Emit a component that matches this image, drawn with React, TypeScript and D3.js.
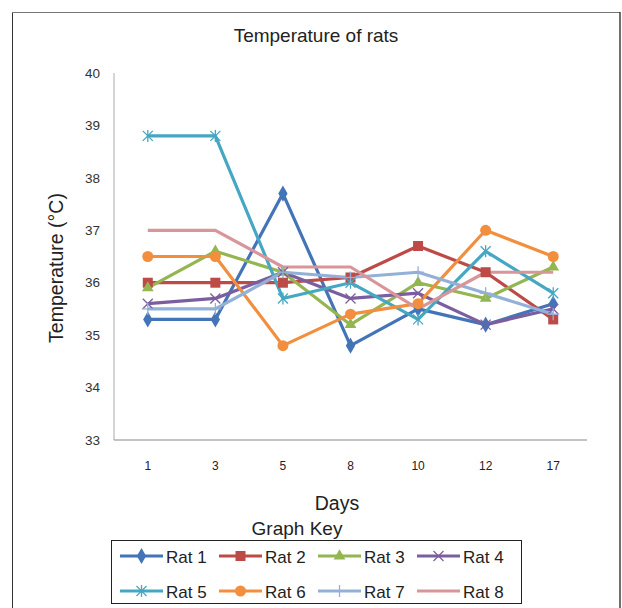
import * as d3 from "d3";

// Dados
const DIAS = ["1", "3", "5", "8", "10", "12", "17"];
const RATOS = ["Rat 1", "Rat 2", "Rat 3", "Rat 4", "Rat 5", "Rat 6", "Rat 7", "Rat 8"];
const RAT1 = [35.3, 35.3, 37.7, 34.8, 35.5, 35.2, 35.6];
const RAT2 = [36.0, 36.0, 36.0, 36.1, 36.7, 36.2, 35.3];
const RAT3 = [35.9, 36.6, 36.2, 35.2, 36.0, 35.7, 36.3];
const RAT4 = [35.6, 35.7, 36.2, 35.7, 35.8, 35.2, 35.5];
const RAT5 = [38.8, 38.8, 35.7, 36.0, 35.3, 36.6, 35.8];
const RAT6 = [36.5, 36.5, 34.8, 35.4, 35.6, 37.0, 36.5];
const RAT7 = [35.5, 35.5, 36.2, 36.1, 36.2, 35.8, 35.4];
const RAT8 = [37.0, 37.0, 36.3, 36.3, 35.5, 36.2, 36.2];
const Y_TICKS = [33, 34, 35, 36, 37, 38, 39, 40];

const SERIES = [RAT1, RAT2, RAT3, RAT4, RAT5, RAT6, RAT7, RAT8];

// Cores estilo Excel 2007
const CORES = ["#4374b7", "#bd4a47", "#94b650", "#7b5e9f", "#45a7c1", "#f28f3e", "#93b1d8", "#d8959a"];
const MARCADORES = ["diamond", "square", "triangle", "x", "star", "circle", "plus", "none"];

const W = 622;
const H = 608;
const FONT = "'Liberation Sans', Arial, sans-serif";

const x = d3.scalePoint<string>().domain(DIAS).range([114, 587]).padding(0.5);
const y = d3.scaleLinear().domain([33, 40]).range([440, 73]);

function Marcador({ tipo, cx, cy, cor }: { tipo: string; cx: number; cy: number; cor: string }) {
  const t = `translate(${cx},${cy})`;
  if (tipo === "diamond") {
    return <path transform={t} d={d3.symbol(d3.symbolDiamond, 75)()!} fill={cor} />;
  }
  if (tipo === "square") {
    return <rect x={cx - 5} y={cy - 5} width={10} height={10} fill={cor} />;
  }
  if (tipo === "triangle") {
    return <path transform={t} d={d3.symbol(d3.symbolTriangle, 60)()!} fill={cor} />;
  }
  if (tipo === "circle") {
    return <circle cx={cx} cy={cy} r={5.5} fill={cor} />;
  }
  const r = 5;
  const linhas: [number, number, number, number][] = [];
  if (tipo === "x" || tipo === "star") {
    linhas.push([-r, -r, r, r], [-r, r, r, -r]);
  }
  if (tipo === "star" || tipo === "plus") {
    linhas.push([0, -r - 1, 0, r + 1]);
  }
  if (tipo === "plus") {
    linhas.push([-r - 1, 0, r + 1, 0]);
  }
  return (
    <g transform={t}>
      {linhas.map((l, i) => (
        <line key={i} x1={l[0]} y1={l[1]} x2={l[2]} y2={l[3]} stroke={cor} strokeWidth={1.3} />
      ))}
    </g>
  );
}

export default function App() {
  const linha = d3
    .line<number>()
    .x((_, i) => x(DIAS[i]) ?? 0)
    .y((d) => y(d));

  return (
    <svg
      width={W}
      height={H}
      style={{ position: "fixed", left: 0, top: 0, background: "#fff" }}
      fontFamily={FONT}
    >
      <rect x={0} y={0} width={W} height={H} fill="#fff" />
      {/* moldura externa */}
      <line x1={12.5} y1={12} x2={12.5} y2={H} stroke="#333" strokeWidth={1} />
      <line x1={12} y1={12.5} x2={620} y2={12.5} stroke="#777" strokeWidth={1.2} />
      <line x1={620} y1={12} x2={620} y2={H} stroke="#222" strokeWidth={1.3} />

      <text x={316} y={42} textAnchor="middle" fontSize={19} fill="#222">
        Temperature of rats
      </text>

      {/* eixo Y */}
      <line x1={114} y1={y(40)} x2={114} y2={y(33)} stroke="#aaa" strokeWidth={1} />
      {Y_TICKS.map((t) => (
        <text key={t} x={100} y={y(t)} dy="0.35em" textAnchor="end" fontSize={13.5} fill="#333">
          {t}
        </text>
      ))}
      <text
        transform={`translate(63,268) rotate(-90)`}
        textAnchor="middle"
        fontSize={19.5}
        fill="#222"
      >
        Temperature (°C)
      </text>

      {/* eixo X */}
      <line x1={114} y1={y(33)} x2={587} y2={y(33)} stroke="#888" strokeWidth={1} />
      {DIAS.map((d) => (
        <text key={d} x={x(d)} y={470} textAnchor="middle" fontSize={12} fill="#222">
          {d}
        </text>
      ))}
      <text x={337} y={510} textAnchor="middle" fontSize={19.5} fill="#222">
        Days
      </text>

      {/* séries */}
      {SERIES.map((s, i) => (
        <path key={i} d={linha(s)!} fill="none" stroke={CORES[i]} strokeWidth={3.2} strokeLinejoin="round" />
      ))}
      {SERIES.map((s, i) =>
        s.map((v, j) => (
          <Marcador key={`${i}-${j}`} tipo={MARCADORES[i]} cx={x(DIAS[j]) ?? 0} cy={y(v)} cor={CORES[i]} />
        ))
      )}

      {/* legenda */}
      <text x={297} y={535} textAnchor="middle" fontSize={19} fill="#222">
        Graph Key
      </text>
      <rect x={111.5} y={540.5} width={410} height={63} fill="#fff" stroke="#222" strokeWidth={1} />
      {RATOS.map((nome, i) => {
        const col = i % 4;
        const row = Math.floor(i / 4);
        const lx = 120 + col * 99;
        const ly = row === 0 ? 556 : 591;
        return (
          <g key={nome}>
            <line x1={lx} y1={ly} x2={lx + 43} y2={ly} stroke={CORES[i]} strokeWidth={3.2} />
            <Marcador tipo={MARCADORES[i]} cx={lx + 21.5} cy={ly} cor={CORES[i]} />
            <text x={lx + 46} y={ly + 6.5} fontSize={17} fill="#222">
              {nome}
            </text>
          </g>
        );
      })}
    </svg>
  );
}
